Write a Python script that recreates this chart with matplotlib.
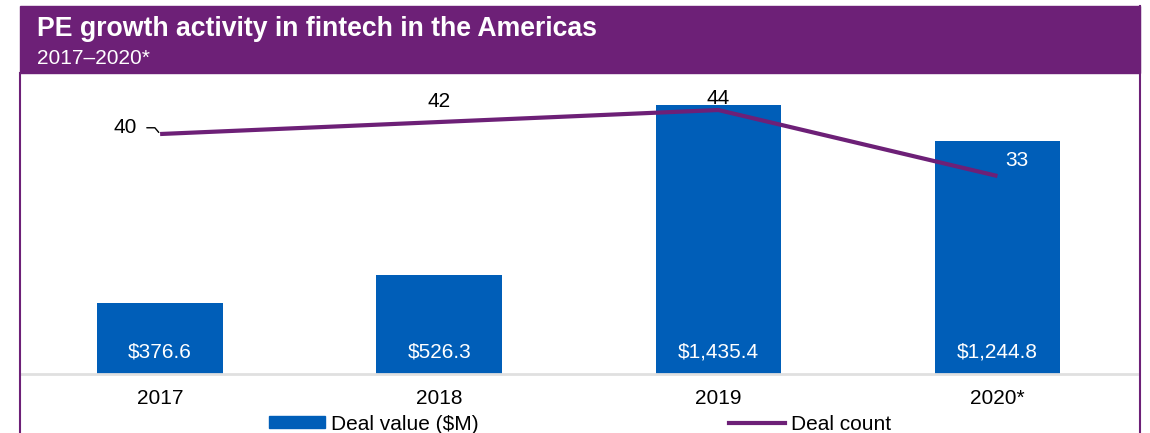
import matplotlib.pyplot as plt
from matplotlib.patches import Rectangle
from matplotlib.lines import Line2D

plt.rcParams['font.family'] = ['Liberation Sans', 'DejaVu Sans']

years = ["2017", "2018", "2019", "2020*"]
deal_value = [376.6, 526.3, 1435.4, 1244.8]
value_labels = ["$376.6", "$526.3", "$1,435.4", "$1,244.8"]
deal_count = [40, 42, 44, 33]

purple = '#6D2077'
blue = '#005EB8'

W, H = 1150, 433
fig = plt.figure(figsize=(11.5, 4.33), dpi=100)

# header band and side borders
fig.patches.append(Rectangle((20 / W, 1 - 73 / H), 1120 / W, 67 / H,
                             transform=fig.transFigure, color=purple, zorder=0))
fig.lines.append(Line2D([20 / W, 20 / W], [0, 1 - 73 / H], transform=fig.transFigure,
                        color=purple, lw=1.5))
fig.lines.append(Line2D([1140 / W, 1140 / W], [0, 1 - 6 / H], transform=fig.transFigure,
                        color=purple, lw=1.5))
fig.text(37 / W, 1 - 36 / H, "PE growth activity in fintech in the Americas",
         color='white', fontsize=19.2, fontweight='bold', va='baseline')
fig.text(37 / W, 1 - 64 / H, "2017\u20132020*", color='white', fontsize=15, va='baseline')

ax = fig.add_axes([20 / W, 1 - 374 / H, 1117 / W, 301 / H])
x = list(range(len(years)))
ax.bar(x, deal_value, width=0.45, color=blue, zorder=2)
ax.set_xlim(-0.502, 3.50)
ax.set_ylim(0, 1606)
ax.set_xticks(x)
ax.set_xticklabels(years, fontsize=15)
ax.tick_params(axis='x', length=0, pad=11)
ax.set_yticks([])
for s in ['top', 'left', 'right']:
    ax.spines[s].set_visible(False)
ax.spines['bottom'].set_color('#E0E0E0')
ax.spines['bottom'].set_linewidth(2)

for xi, lab in zip(x, value_labels):
    ax.annotate(lab, (xi, 0), xytext=(0, 16), textcoords='offset points',
                ha='center', va='center', color='white', fontsize=15)

ax2 = ax.twinx()
ax2.plot(x, deal_count, color=purple, lw=3, solid_capstyle='butt', zorder=3)
ax2.set_ylim(0, 50.17)
ax2.set_yticks([])
for s in ax2.spines.values():
    s.set_visible(False)

offsets = [(-25, 4.5), (0, 15), (0, 8), (14, 11.5)]
label_colors = ['black', 'black', 'black', 'white']
for i, (xi, v) in enumerate(zip(x, deal_count)):
    if i == 0:
        ax2.annotate(str(v), (xi, v), xytext=offsets[i], textcoords='offset points',
                     ha='center', va='center', fontsize=15, color=label_colors[i],
                     arrowprops=dict(arrowstyle='-', lw=1, color='black', shrinkA=5, shrinkB=1.5,
                                     connectionstyle='angle,angleA=0,angleB=130,rad=0'))
    else:
        ax2.annotate(str(v), (xi, v), xytext=offsets[i], textcoords='offset points',
                     ha='center', va='center', fontsize=15, color=label_colors[i])

handles = [Rectangle((0, 0), 1, 1, color=blue),
           Line2D([0], [0], color=purple, lw=3)]
fig.legend(handles, ["Deal value ($M)", "Deal count"], loc='center',
           bbox_to_anchor=(580 / W, 1 - 424 / H), ncol=2, frameon=False, fontsize=15,
           handlelength=2.7, handleheight=0.5, handletextpad=0.3, columnspacing=12,
           borderpad=0, borderaxespad=0)

plt.savefig("out.png", dpi=100)
